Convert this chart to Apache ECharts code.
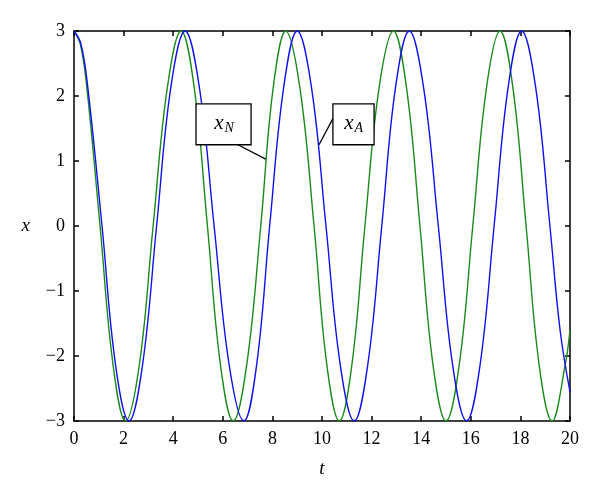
<!DOCTYPE html>
<html><head><meta charset="utf-8">
<script src="https://cdn.jsdelivr.net/npm/echarts@6/dist/echarts.min.js"></script>
<style>html,body{margin:0;padding:0;background:#fff}#c{width:600px;height:502px}</style>
</head><body><div id="c"></div>
<script>
// x_N (green)
const tN = [0, 0.26, 0.52, 1.05, 1.57, 2.08, 2.64, 3.19, 3.76, 4.32, 4.85, 5.38, 5.90, 6.42, 6.97, 7.53, 8.03, 8.54, 9.11, 9.68, 10.19, 10.70, 11.21, 11.73, 12.30, 12.88, 13.41, 13.95, 14.47, 15.00, 15.54, 16.08, 16.63, 17.18, 17.70, 18.23, 18.75, 19.28, 19.80, 20];
const xN = [3, 2.79, 2.12, 0, -2.12, -3, -2.12, 0, 2.12, 3, 2.12, 0, -2.12, -3, -2.12, 0, 2.12, 3, 2.12, 0, -2.12, -3, -2.12, 0, 2.12, 3, 2.12, 0, -2.12, -3, -2.12, 0, 2.12, 3, 2.12, 0, -2.12, -3, -2.15, -1.6];
// x_A (blue)
const tA = [0, 0.28, 0.56, 1.13, 1.67, 2.22, 2.77, 3.33, 3.90, 4.48, 5.06, 5.65, 6.25, 6.85, 7.37, 7.89, 8.45, 9.00, 9.58, 10.16, 10.73, 11.30, 11.85, 12.41, 12.96, 13.52, 14.10, 14.69, 15.26, 15.83, 16.38, 16.94, 17.50, 18.05, 18.62, 19.19, 19.60, 20];
const xA = [3, 2.8, 2.12, 0, -2.12, -3, -2.12, 0, 2.12, 3, 2.12, 0, -2.12, -3, -2.12, 0, 2.12, 3, 2.12, 0, -2.12, -3, -2.12, 0, 2.12, 3, 2.12, 0, -2.12, -3, -2.12, 0, 2.12, 3, 2.12, 0, -1.6, -2.55];

const xTicks = [0, 2, 4, 6, 8, 10, 12, 14, 16, 18, 20];
const yTicks = [-3, -2, -1, 0, 1, 2, 3];
const yTickLabels = ['\u22123', '\u22122', '\u22121', '0', '1', '2', '3'];
const legendNames = ['N', 'A'];

const FONT = 'Liberation Serif';
const chart = echarts.init(document.getElementById('c'), null, {renderer: 'canvas'});
const pairs = (t, x) => t.map((v, i) => [v, x[i]]);

function xAx(pos, show) {
  return {
    type: 'value', position: pos, min: xTicks[0], max: xTicks[xTicks.length - 1], interval: 2,
    axisLine: {show: true, onZero: false, lineStyle: {color: '#000', width: 1.5}},
    axisTick: {show: true, inside: true, length: 5, lineStyle: {color: '#000', width: 1.5}},
    axisLabel: {show: show, color: '#000', fontFamily: FONT, fontSize: 18, margin: 9,
      formatter: v => String(xTicks[xTicks.indexOf(v)])},
    splitLine: {show: false},
    name: show ? 't' : '', nameLocation: 'middle', nameGap: 38,
    nameTextStyle: {fontFamily: FONT, fontStyle: 'italic', fontSize: 19, color: '#000'}
  };
}
function yAx(pos, show) {
  return {
    type: 'value', position: pos, min: -3, max: 3, interval: 1,
    axisLine: {show: true, onZero: false, lineStyle: {color: '#000', width: 1.5}},
    axisTick: {show: true, inside: true, length: 5, lineStyle: {color: '#000', width: 1.5}},
    axisLabel: {show: show, color: '#000', fontFamily: FONT, fontSize: 18, margin: 9,
      formatter: v => yTickLabels[yTicks.indexOf(v)]},
    splitLine: {show: false},
    name: show ? 'x' : '', nameLocation: 'middle', nameGap: 44, nameRotate: 0,
    nameTextStyle: {fontFamily: FONT, fontStyle: 'italic', fontSize: 19, color: '#000'}
  };
}

chart.setOption({
  animation: false,
  backgroundColor: '#fff',
  grid: {left: 74, right: 30, top: 31, bottom: 81},
  xAxis: [xAx('bottom', true), xAx('top', false)],
  yAxis: [yAx('left', true), yAx('right', false)],
  series: [
    {type: 'line', name: 'xN', data: pairs(tN, xN), smooth: 0.4, showSymbol: false,
      lineStyle: {color: '#1a8a1a', width: 1.4}, z: 2},
    {type: 'line', name: 'xA', data: pairs(tA, xA), smooth: 0.4, showSymbol: false,
      lineStyle: {color: '#1010ee', width: 1.4}, z: 3}
  ]
});

const P = (t, x) => chart.convertToPixel({xAxisIndex: 0, yAxisIndex: 0}, [t, x]);
function annot(sub, box, lead) {
  const a = P(box[0], box[1]), b = P(box[2], box[3]);
  const l0 = P(lead[0], lead[1]), l1 = P(lead[2], lead[3]);
  const cx = (a[0] + b[0]) / 2, cy = (a[1] + b[1]) / 2;
  return [
    {type: 'line', shape: {x1: l0[0], y1: l0[1], x2: l1[0], y2: l1[1]}, style: {stroke: '#000', lineWidth: 1.3}, z: 10},
    {type: 'rect', shape: {x: a[0], y: a[1], width: b[0] - a[0], height: b[1] - a[1]},
      style: {fill: '#fff', stroke: '#000', lineWidth: 1.3}, z: 11},
    {type: 'text', z: 12, style: {text: 'x', x: cx + 0, y: cy - 1, align: 'right', verticalAlign: 'middle',
      font: 'italic 21px "Liberation Serif"', fill: '#000'}},
    {type: 'text', z: 12, style: {text: sub, x: cx + 1, y: cy + 4, align: 'left', verticalAlign: 'middle',
      font: 'italic 14px "Liberation Serif"', fill: '#000'}}
  ];
}
chart.setOption({
  graphic: [].concat(
    annot(legendNames[0], [4.92, 1.88, 7.14, 1.25], [6.61, 1.25, 7.73, 1.03]),
    annot(legendNames[1], [10.44, 1.88, 12.10, 1.25], [10.45, 1.66, 9.88, 1.25])
  )
});
</script></body></html>
